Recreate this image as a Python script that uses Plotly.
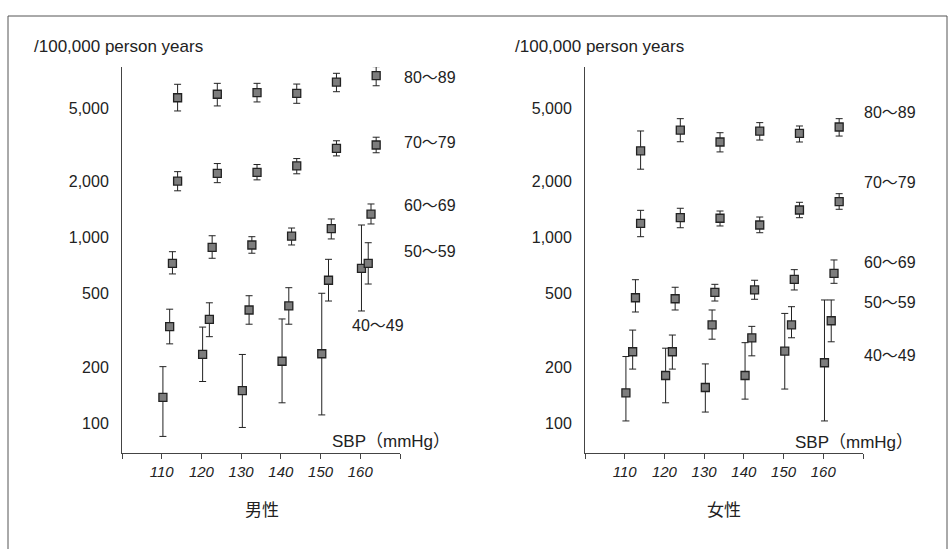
import plotly.graph_objects as go

# ---------------- data ----------------
sbp = [110, 120, 130, 140, 150, 160]
sbp_ticks = [100, 110, 120, 130, 140, 150, 160, 170]
sbp_ticktext = ["", "110", "120", "130", "140", "150", "160", ""]

y_tickvals = [100, 200, 500, 1000, 2000, 5000]
y_ticktext = ["100", "200", "500", "1,000", "2,000", "5,000"]

age_groups = ["40〜49", "50〜59", "60〜69", "70〜79", "80〜89"]

# 男性 (men): rate, upper CI, lower CI  (/100,000 person years)
men_40_49 = [138, 235, 150, 216, 237, 684]
men_40_49_hi = [202, 330, 235, 365, 502, 1171]
men_40_49_lo = [85, 168, 95, 129, 111, 403]

men_50_59 = [332, 363, 408, 429, 590, 728]
men_50_59_hi = [412, 446, 487, 538, 765, 940]
men_50_59_lo = [268, 293, 342, 342, 456, 563]

men_60_69 = [728, 888, 914, 1020, 1120, 1340]
men_60_69_hi = [841, 1025, 1013, 1128, 1262, 1520]
men_60_69_lo = [638, 775, 825, 914, 985, 1186]

men_70_79 = [2020, 2220, 2250, 2440, 3030, 3160]
men_70_79_hi = [2270, 2510, 2480, 2670, 3330, 3480]
men_70_79_lo = [1790, 1980, 2050, 2210, 2760, 2870]

men_80_89 = [5680, 5930, 6050, 6000, 6900, 7470]
men_80_89_hi = [6710, 6790, 6790, 6730, 7690, 8350]
men_80_89_lo = [4820, 5130, 5390, 5300, 6120, 6590]

# 女性 (women)
women_40_49 = [146, 181, 156, 181, 245, 212]
women_40_49_hi = [229, 254, 209, 272, 391, 462]
women_40_49_lo = [103, 129, 115, 135, 153, 103]

women_50_59 = [243, 243, 339, 289, 339, 357]
women_50_59_hi = [318, 299, 408, 333, 425, 462]
women_50_59_lo = [196, 196, 284, 231, 289, 275]

women_60_69 = [475, 469, 508, 523, 597, 643]
women_60_69_hi = [594, 541, 561, 590, 673, 759]
women_60_69_lo = [398, 408, 456, 466, 523, 568]

women_70_79 = [1196, 1282, 1273, 1171, 1411, 1564]
women_70_79_hi = [1405, 1441, 1393, 1293, 1552, 1727]
women_70_79_lo = [1013, 1132, 1157, 1064, 1282, 1423]

women_80_89 = [2940, 3800, 3280, 3750, 3650, 3950]
women_80_89_hi = [3760, 4380, 3680, 4170, 4000, 4380]
women_80_89_lo = [2340, 3290, 2900, 3360, 3280, 3530]

# ---------------- styling ----------------
W, H = 949, 549
FONT = "Liberation Sans, Arial, Noto Sans CJK JP, sans-serif"
INK = "#222222"
# small horizontal stagger per age group so the bars do not overlap
x_shift = {"40〜49": 0.3, "50〜59": 2.0, "60〜69": 2.7, "70〜79": 4.0, "80〜89": 4.0}

men = {
    "40〜49": (men_40_49, men_40_49_hi, men_40_49_lo),
    "50〜59": (men_50_59, men_50_59_hi, men_50_59_lo),
    "60〜69": (men_60_69, men_60_69_hi, men_60_69_lo),
    "70〜79": (men_70_79, men_70_79_hi, men_70_79_lo),
    "80〜89": (men_80_89, men_80_89_hi, men_80_89_lo),
}
women = {
    "40〜49": (women_40_49, women_40_49_hi, women_40_49_lo),
    "50〜59": (women_50_59, women_50_59_hi, women_50_59_lo),
    "60〜69": (women_60_69, women_60_69_hi, women_60_69_lo),
    "70〜79": (women_70_79, women_70_79_hi, women_70_79_lo),
    "80〜89": (women_80_89, women_80_89_hi, women_80_89_lo),
}

fig = go.Figure()


def add_panel(groups, xref, yref):
    for g in age_groups:
        val, hi, lo = groups[g]
        fig.add_trace(go.Scatter(
            x=[s + x_shift[g] for s in sbp],
            y=val,
            mode="markers",
            name=g,
            showlegend=False,
            xaxis=xref, yaxis=yref,
            marker=dict(symbol="square", size=8, color="#7d7d7d",
                        line=dict(color=INK, width=1.3)),
            error_y=dict(type="data", symmetric=False,
                         array=[h - v for h, v in zip(hi, val)],
                         arrayminus=[v - l for v, l in zip(val, lo)],
                         color=INK, thickness=1, width=3.5),
        ))


add_panel(men, "x", "y")
add_panel(women, "x2", "y2")

px = lambda v: v / W
py = lambda v: 1 - v / H

yrange = [1.8401, 3.9199]
ydom = [py(453), py(67)]

xaxis_common = dict(
    range=[100, 170], tickvals=sbp_ticks, ticktext=sbp_ticktext,
    ticks="outside", ticklen=5, tickwidth=1, tickcolor="#444",
    showline=True, linecolor="#444", linewidth=1,
    showgrid=False, zeroline=False,
    tickfont=dict(family=FONT, size=15, color=INK, style="italic"),
)
yaxis_common = dict(
    type="log", range=yrange, domain=ydom,
    tickvals=y_tickvals, ticktext=y_ticktext, ticks="",
    showline=True, linecolor="#444", linewidth=1,
    showgrid=False, zeroline=False, ticklabelstandoff=9,
    tickfont=dict(family=FONT, size=16, color=INK),
)

fig.update_layout(
    width=W, height=H,
    margin=dict(l=0, r=0, t=0, b=0),
    paper_bgcolor="white", plot_bgcolor="white",
    xaxis=dict(domain=[px(122), px(400)], anchor="y", **xaxis_common),
    yaxis=dict(anchor="x", **yaxis_common),
    xaxis2=dict(domain=[px(585), px(863)], anchor="y2", **xaxis_common),
    yaxis2=dict(anchor="x2", **yaxis_common),
)

ann = []


def text(x, y, s, size=16, xanchor="left"):
    ann.append(dict(x=px(x), y=py(y), xref="paper", yref="paper", text=s,
                    showarrow=False, xanchor=xanchor, yanchor="middle",
                    font=dict(family=FONT, size=size, color=INK)))


text(32, 47, "/100,000 person years", 17)
text(513, 47, "/100,000 person years", 17)

for g, yy in zip(["80〜89", "70〜79", "60〜69", "50〜59"], [77, 143, 205, 251]):
    text(402, yy, g, 16)
text(350, 325, "40〜49", 16)

for g, yy in zip(["80〜89", "70〜79", "60〜69", "50〜59", "40〜49"], [113, 183, 263, 302, 355]):
    text(862, yy, g, 16)

text(330, 441, "SBP（mmHg）", 17)
text(793, 442, "SBP（mmHg）", 17)
text(262, 510, "男性", 17, xanchor="center")
text(724, 510, "女性", 17, xanchor="center")

fig.update_layout(annotations=ann)

# outer frame of the figure
fig.add_shape(type="rect", xref="paper", yref="paper",
              x0=px(8), x1=px(947), y0=py(600), y1=py(16),
              line=dict(color="#555", width=1), fillcolor="rgba(0,0,0,0)")

fig.write_html(
    "out.html",
    config={"displayModeBar": False},
    post_script="document.body.style.margin='0';document.body.style.overflow='hidden';",
)
